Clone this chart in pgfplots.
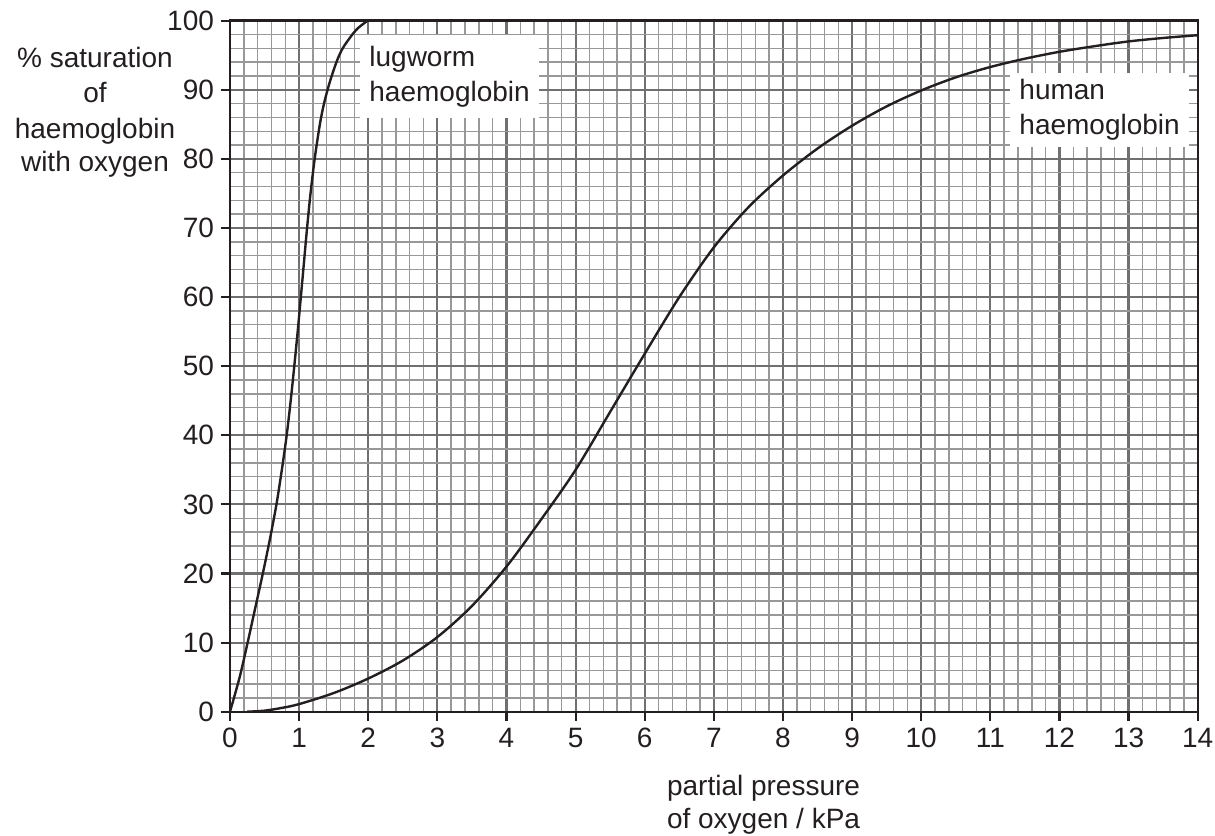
\documentclass[border=0pt]{standalone}
\usepackage{fontspec}
\setmainfont{Liberation Sans}
\usepackage{pgfplots}
\pgfplotsset{compat=1.18}
\definecolor{majgrid}{RGB}{112,112,112}
\definecolor{mingrid}{RGB}{152,152,152}
\definecolor{ink}{RGB}{35,31,32}
\begin{document}
\begin{tikzpicture}[font=\fontsize{14bp}{17.5bp}\selectfont]
\begin{axis}[
  at={(0,0)}, anchor=south west,
  scale only axis, width=483.85bp, height=345.5bp,
  xmin=0, xmax=14, ymin=0, ymax=100,
  xtick={0,...,14}, ytick={0,10,...,100},
  minor x tick num=4, minor y tick num=4,
  grid=both,
  major grid style={draw=majgrid, line width=1.1bp},
  minor grid style={draw=mingrid, line width=0.7bp},
  tick align=outside, major tick length=4.5bp, minor tick length=0pt,
  tick style={draw=ink, line width=1.1bp},
  axis line style={draw=ink, line width=1.2bp},
  tick pos=left,
  /pgf/number format/assume math mode=true,
  ticklabel style={font=\fontsize{14bp}{17.5bp}\selectfont, text=ink},
]
\node[fill=white, inner xsep=4.5bp, inner ysep=5.5bp, align=left, anchor=west, text=ink] at (axis cs:1.881,91.92) {lugworm\\haemoglobin};
\node[fill=white, inner xsep=4.5bp, inner ysep=3.3bp, align=left, anchor=west, text=ink] at (axis cs:11.285,87.08) {human\\haemoglobin};
\addplot[ink, line width=1.2bp, smooth] coordinates {
(0,0) (0.14,5) (0.255,10) (0.365,15) (0.475,20) (0.578,25) (0.672,30) (0.75,35) (0.82,40) (0.878,45) (0.93,50) (0.979,55) (1.025,60) (1.07,65) (1.115,70) (1.165,75) (1.225,80) (1.30,85) (1.36,88) (1.44,91) (1.54,94) (1.63,96) (1.77,98) (1.86,99) (1.99,100)
};
\addplot[ink, line width=1.2bp, smooth] coordinates {
(0.25,0) (0.5,0.15) (0.75,0.55) (1,1.1) (1.5,2.7) (2,4.8) (2.5,7.4) (3,10.8) (3.5,15.3) (4,21.0) (4.5,27.8) (5,35.0) (5.5,43.4) (6,51.8) (6.5,60.0) (7,67.2) (7.5,73.0) (8,77.6) (8.5,81.5) (9,84.8) (9.5,87.6) (10,89.9) (10.5,91.8) (11,93.3) (11.5,94.5) (12,95.5) (12.5,96.3) (13,97.0) (13.5,97.5) (14,97.9)
};
\end{axis}
\begin{scope}[text=ink]
\node[anchor=base] at (-67.5bp,322bp) {\% saturation};
\node[anchor=base] at (-67.5bp,304.5bp) {of};
\node[anchor=base] at (-67.5bp,286.7bp) {haemoglobin};
\node[anchor=base] at (-67.5bp,270bp) {with oxygen};
\node[anchor=base west] at (215bp,-41.65bp) {partial pressure};
\node[anchor=base west] at (215bp,-58.3bp) {of oxygen / kPa};
\end{scope}
\pgfresetboundingbox
\path[use as bounding box] (-115bp,-62.15bp) rectangle (492.5bp,355.85bp);
\end{tikzpicture}
\end{document}
